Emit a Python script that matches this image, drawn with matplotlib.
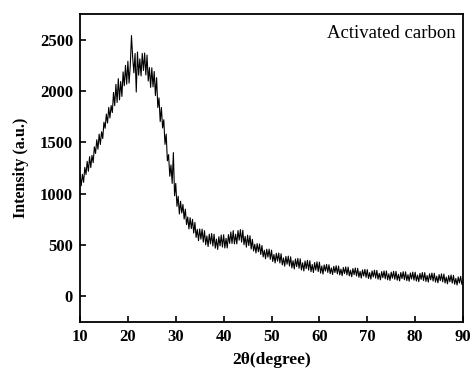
import numpy as np
import matplotlib
matplotlib.use("Agg")
import matplotlib.pyplot as plt

plt.rcParams['font.family'] = ['Liberation Serif', 'DejaVu Serif']

two_theta_start = 10.0
two_theta_step = 0.25
intensity = [
    1190, 1077, 1188, 1110,
    1256, 1187, 1315, 1218,
    1360, 1254, 1373, 1302,
    1456, 1392, 1525, 1433,
    1580, 1479, 1603, 1537,
    1696, 1637, 1775, 1688,
    1840, 1737, 1858, 1790,
    1986, 1857, 2065, 1888,
    2120, 1914, 2093, 1947,
    2186, 2050, 2250, 2066,
    2290, 2077, 2248, 2540,
    2326, 2177, 2365, 1990,
    2380, 2154, 2313, 2147,
    2366, 2200, 2370, 2156,
    2350, 2097, 2228, 2035,
    2226, 2040, 2190, 1956,
    2130, 1839, 1933, 1702,
    1840, 1640, 1720, 1480,
    1580, 1320, 1380, 1170,
    1280, 1100, 1400, 980,
    1100, 877, 975, 802,
    926, 812, 895, 753,
    850, 699, 773, 657,
    766, 660, 750, 616,
    720, 574, 653, 542,
    656, 557, 655, 528,
    640, 502, 588, 485,
    606, 511, 612, 490,
    605, 469, 558, 457,
    581, 491, 597, 480,
    600, 471, 565, 471,
    601, 516, 627, 515,
    640, 511, 605, 511,
    641, 547, 650, 528,
    645, 503, 585, 479,
    596, 495, 590, 461,
    555, 442, 507, 422,
    514, 434, 510, 408,
    495, 384, 449, 366,
    459, 382, 460, 361,
    450, 340, 407, 325,
    419, 343, 422, 325,
    415, 306, 374, 294,
    389, 313, 392, 295,
    385, 277, 347, 267,
    364, 289, 370, 273,
    365, 257, 327, 247,
    344, 270, 351, 255,
    347, 240, 310, 232,
    329, 255, 336, 241,
    333, 226, 296, 217,
    306, 246, 311, 233,
    308, 221, 277, 213,
    292, 232, 298, 219,
    295, 209, 265, 201,
    281, 222, 287, 209,
    285, 199, 255, 191,
    271, 211, 276, 198,
    273, 186, 243, 178,
    258, 198, 263, 185,
    260, 174, 231, 168,
    248, 189, 255, 177,
    253, 167, 224, 161,
    241, 182, 248, 171,
    247, 161, 219, 155,
    236, 177, 244, 166,
    243, 157, 215, 151,
    232, 173, 240, 162,
    239, 153, 211, 147,
    228, 169, 236, 158,
    235, 149, 207, 143,
    224, 165, 232, 154,
    231, 145, 203, 139,
    220, 161, 227, 149,
    225, 139, 196, 132,
    212, 153, 219, 141,
    217, 130, 187, 122,
    202, 142, 208, 129,
    205, 118, 174, 110,
    189, 130, 195, 117,
    148,
]
two_theta = two_theta_start + two_theta_step * np.arange(len(intensity))

x_ticks = [10, 20, 30, 40, 50, 60, 70, 80, 90]
y_ticks = [0, 500, 1000, 1500, 2000, 2500]

fig = plt.figure(figsize=(4.72, 3.74), dpi=100)
ax = fig.add_axes([0.1695, 0.139, 0.8115, 0.8236])
ax.plot(two_theta, intensity, color='black', lw=0.8)
ax.set_xlim(10, 90)
ax.set_ylim(-250, 2750)
ax.set_xticks(x_ticks)
ax.set_yticks(y_ticks)
ax.tick_params(direction='in', length=4, width=1.2, top=False, right=False,
               labelsize=12, pad=5)
for lab in ax.get_xticklabels() + ax.get_yticklabels():
    lab.set_fontweight('bold')
for sp in ax.spines.values():
    sp.set_linewidth(1.3)
ax.set_xlabel('2θ(degree)', fontsize=12.5, fontweight='bold', labelpad=5)
ax.set_ylabel('Intensity (a.u.)', fontsize=11.5, fontweight='bold', labelpad=8)
ax.text(0.982, 0.965, 'Activated carbon', transform=ax.transAxes,
        ha='right', va='top', fontsize=13.5)
fig.savefig('out.png', dpi=100)
